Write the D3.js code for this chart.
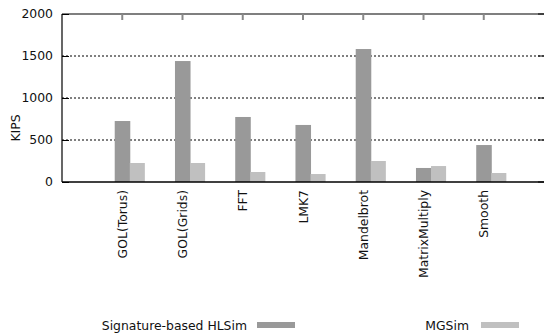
<!DOCTYPE html>
<html><head><meta charset="utf-8">
<script src="https://cdn.jsdelivr.net/npm/d3@7"></script>
<style>body{margin:0;background:#fff}svg{display:block}text{font-family:"DejaVu Sans",sans-serif}</style>
</head><body>
<script>
const categories = ["GOL(Torus)","GOL(Grids)","FFT","LMK7","Mandelbrot","MatrixMultiply","Smooth"];
const seriesNames = ["Signature-based HLSim","MGSim"];
const hlsim = [726, 1440, 774, 679, 1583, 167, 440];
const mgsim = [226, 226, 119, 95, 250, 190, 107];
const yTicks = [0, 500, 1000, 1500, 2000];
const colors = ["#999999", "#c0c0c0"];

const W = 544, H = 336;
const L = 62, R = 544, T = 14, B = 182;
const FS = 12.4;
const svg = d3.select("body").append("svg").attr("width", W).attr("height", H);

const x = d3.scaleLinear().domain([-1, categories.length]).range([L, R]);
const y = d3.scaleLinear().domain([0, 2000]).range([B, T]);
const bw = 0.25;

// grid
svg.append("g").selectAll("line").data(yTicks.filter(d => d > 0 && d < 2000)).join("line")
  .attr("x1", L).attr("x2", R).attr("y1", d => y(d)).attr("y2", d => y(d))
  .attr("stroke", "#000").attr("stroke-width", 1).attr("stroke-dasharray", "2,2");

// bars
const series = [hlsim, mgsim];
series.forEach((vals, s) => {
  svg.append("g").selectAll("rect").data(vals).join("rect")
    .attr("x", (d, i) => x(i - bw / 2 + s * bw))
    .attr("width", x(bw) - x(0) + (s === 0 ? 0.5 : 0))
    .attr("y", d => y(d))
    .attr("height", d => y(0) - y(d))
    .attr("fill", colors[s]);
});

// y axis
const yAxis = d3.axisLeft(y).tickValues(yTicks).tickFormat(d3.format("d")).tickSize(-7).tickPadding(9);
const gy = svg.append("g").attr("transform", `translate(${L},0)`).call(yAxis);
gy.attr("font-family", null).attr("font-size", null);
gy.select(".domain").remove();
gy.selectAll("text").attr("font-size", FS).attr("fill", "#111");
gy.selectAll("line").attr("stroke", "#000");
// right mirror ticks
svg.append("g").selectAll("line").data(yTicks).join("line")
  .attr("x1", R - 6).attr("x2", R).attr("y1", d => y(d)).attr("y2", d => y(d)).attr("stroke", "#000");

// frame
svg.append("line").attr("x1", L).attr("x2", L).attr("y1", T).attr("y2", B).attr("stroke", "#000").attr("stroke-width", 1.2);
svg.append("line").attr("x1", L).attr("x2", R).attr("y1", T).attr("y2", T).attr("stroke", "#000").attr("stroke-width", 1.2);
svg.append("line").attr("x1", L).attr("x2", R).attr("y1", B).attr("y2", B).attr("stroke", "#000").attr("stroke-width", 1.5);

// top category ticks
svg.append("g").selectAll("line").data(categories).join("line")
  .attr("x1", (d, i) => x(i)).attr("x2", (d, i) => x(i))
  .attr("y1", T).attr("y2", T + 6).attr("stroke", "#888").attr("stroke-width", 2);

// x labels
svg.append("g").selectAll("text").data(categories).join("text")
  .attr("transform", (d, i) => `translate(${x(i) + 4.5},${B + 8}) rotate(-90)`)
  .attr("text-anchor", "end").attr("font-size", FS).attr("fill", "#111").text(d => d);

// y label
svg.append("text").attr("transform", `translate(20,128) rotate(-90)`)
  .attr("text-anchor", "middle").attr("font-size", FS).attr("fill", "#111").text("KIPS");

// legend
const legend = [
  { name: seriesNames[0], tx: 247, sx: 257 },
  { name: seriesNames[1], tx: 469, sx: 481 }
];
legend.forEach((lg, s) => {
  svg.append("text").attr("x", lg.tx).attr("y", 329.5).attr("text-anchor", "end")
    .attr("font-size", FS).attr("fill", "#111").text(lg.name);
  svg.append("rect").attr("x", lg.sx).attr("y", 322).attr("width", 38).attr("height", 6).attr("fill", colors[s]);
});
</script>
</body></html>
